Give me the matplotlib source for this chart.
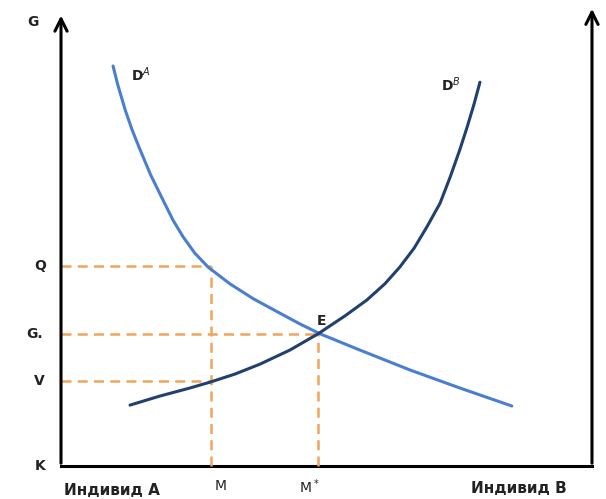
import matplotlib
matplotlib.use("Agg")
import matplotlib.pyplot as plt

# Кривые спроса двух индивидов (условные единицы)
da_x = [0.98, 1.07, 1.21, 1.34, 1.49, 1.69, 1.92, 2.11, 2.30, 2.52, 2.77,
        3.18, 3.62, 4.12, 4.50, 4.88, 5.63, 6.57, 7.51, 8.49]
da_y = [8.87, 8.45, 7.89, 7.45, 7.01, 6.45, 5.90, 5.45, 5.08, 4.72, 4.41,
        4.04, 3.71, 3.39, 3.15, 2.93, 2.57, 2.13, 1.73, 1.33]
db_x = [1.30, 1.86, 2.43, 2.81, 3.28, 3.75, 4.31, 4.84, 5.35, 5.76, 6.10,
        6.38, 6.65, 6.89, 7.14, 7.33, 7.51, 7.65, 7.78, 7.89]
db_y = [1.35, 1.55, 1.73, 1.86, 2.04, 2.26, 2.57, 2.93, 3.33, 3.68, 4.04,
        4.41, 4.83, 5.30, 5.83, 6.41, 7.01, 7.52, 8.03, 8.51]

m_a, m_star = 2.83, 4.84
q_level, g_star, v_level = 4.43, 2.93, 1.88

fig = plt.figure(figsize=(6.06, 4.99), dpi=100)
ax = fig.add_axes([0, 0, 1, 1])
ax.set_xlim(-1.149, 10.264)
ax.set_ylim(-0.732, 10.333)
ax.axis("off")

# оси
arrow = dict(arrowstyle="->", lw=2.2, color="black", mutation_scale=22)
ax.annotate("", xy=(0, 10.05), xytext=(0, 0), arrowprops=arrow)
ax.annotate("", xy=(10, 10.2), xytext=(10, 0), arrowprops=arrow)
ax.plot([0, 10], [0, 0], color="black", lw=2.2, solid_capstyle="projecting")

# пунктир
orange = "#f2a35e"
dash = dict(color=orange, lw=1.8, ls=(0, (4, 2.5)))
ax.plot([0, m_a], [q_level, q_level], **dash)
ax.plot([m_a, m_a], [0, q_level], **dash)
ax.plot([0, m_star], [g_star, g_star], **dash)
ax.plot([m_star, m_star], [0, g_star], **dash)
ax.plot([0, m_a], [v_level, v_level], **dash)

# кривые
curve = dict(lw=2.2, solid_capstyle="round", solid_joinstyle="round")
ax.plot(da_x, da_y, color="#4a7fd0", **curve)
ax.plot(db_x, db_y, color="#22406e", **curve)

txt = dict(fontsize=10, fontweight="bold", color="#222222", ha="center", va="center")
ax.text(-0.52, 9.85, "G", **txt)
ax.text(-0.40, 0.0, "K", **txt)
ax.text(-0.40, q_level, "Q", **txt)
ax.text(-0.50, g_star, "G.", **txt)
ax.text(-0.40, v_level, "V", **txt)
ax.text(1.50, 8.68, "D$^A$", **txt)
ax.text(7.35, 8.45, "D$^B$", **txt)
ax.text(4.90, 3.22, "E", **txt)

lab = dict(fontsize=10, color="#222222", ha="center", va="center")
ax.text(0.96, -0.54, "Индивид А", fontsize=11, fontweight="bold",
        color="#222222", ha="center", va="center")
ax.text(8.62, -0.50, "Индивид В", fontsize=11, fontweight="bold",
        color="#222222", ha="center", va="center")
ax.text(m_a + 0.17, -0.45, "M", **lab)
ax.text(m_star - 0.17, -0.45, "M$^*$", **lab)

fig.savefig("out.png", dpi=100)
